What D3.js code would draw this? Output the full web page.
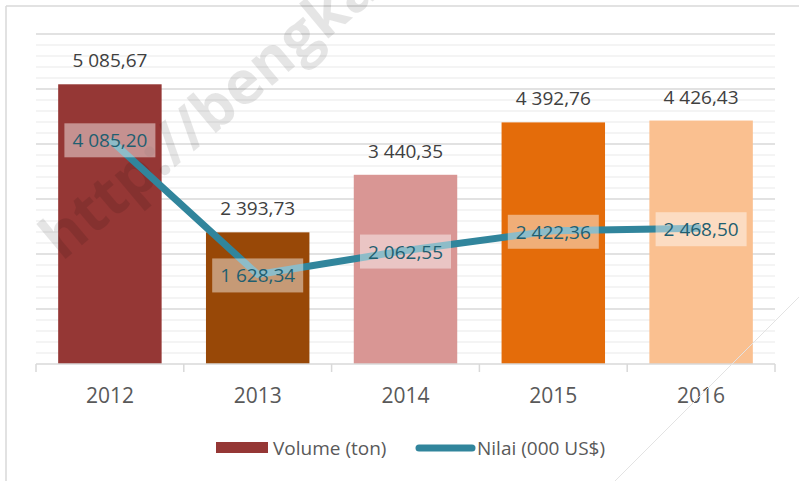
<!DOCTYPE html>
<html>
<head>
<meta charset="utf-8">
<script src="https://cdn.jsdelivr.net/npm/d3@7"></script>
<style>
  html, body { margin: 0; padding: 0; background: #fff; }
  svg { display: block; }
  text { font-family: "Open Sans", "Liberation Sans", sans-serif; }
</style>
</head>
<body>
<svg id="chart" width="799" height="481"></svg>
<script>
const years = ["2012", "2013", "2014", "2015", "2016"];
const volume = [5085.67, 2393.73, 3440.35, 4392.76, 4426.43];
const nilai = [4085.20, 1628.34, 2062.55, 2422.36, 2468.50];
const barColors = ["#953735", "#984807", "#d99694", "#e46c0a", "#fac090"];
const yMajorTicks = [0, 1000, 2000, 3000, 4000, 5000, 6000];
const seriesNames = ["Volume (ton)", "Nilai (000 US$)"];
const watermarkText = "http://bengka";

const W = 799, H = 481;
const mLeft = 36, mRight = 775, mTop = 34, mBottom = 364;

const svg = d3.select("#chart");
const loc = d3.formatLocale({decimal: ",", thousands: " ", grouping: [3], currency: ["", ""]});
const fmt = loc.format(",.2f");

const x = d3.scaleBand().domain(years).range([mLeft, mRight]).paddingInner(0.3).paddingOuter(0.15);
const y = d3.scaleLinear().domain([0, 6000]).range([mBottom, mTop]);

// outer border (top & left visible)
svg.append("line").attr("x1", 6).attr("x2", W).attr("y1", 6).attr("y2", 6)
  .attr("stroke", "#d9d9d9").attr("stroke-width", 1.5);
svg.append("line").attr("x1", 6).attr("x2", 6).attr("y1", 6).attr("y2", H)
  .attr("stroke", "#d9d9d9").attr("stroke-width", 1.5);

// minor gridlines
const minor = d3.range(200, 6000, 200).filter(v => v % 1000 !== 0);
svg.append("g").selectAll("line").data(minor).join("line")
  .attr("x1", mLeft).attr("x2", mRight)
  .attr("y1", d => y(d)).attr("y2", d => y(d))
  .attr("stroke", "#f0f0f0").attr("stroke-width", 1.5);
// major gridlines
svg.append("g").selectAll("line").data(yMajorTicks.filter(v => v > 0)).join("line")
  .attr("x1", mLeft).attr("x2", mRight)
  .attr("y1", d => y(d)).attr("y2", d => y(d))
  .attr("stroke", "#d9d9d9").attr("stroke-width", 1.5);

// bars
svg.append("g").selectAll("rect").data(years).join("rect")
  .attr("x", d => x(d)).attr("width", x.bandwidth())
  .attr("y", (d, i) => y(volume[i])).attr("height", (d, i) => y(0) - y(volume[i]))
  .attr("fill", (d, i) => barColors[i]);

// watermark (clipped by the top of the image, as in the reference)
svg.append("text")
  .attr("transform", "translate(62,262) rotate(-40)")
  .attr("font-family", "'Open Sans', sans-serif")
  .attr("font-weight", "bold").attr("font-size", 60)
  .attr("fill", "rgba(0,0,0,0.1)")
  .text(watermarkText);

// x axis
svg.append("line").attr("x1", mLeft).attr("x2", mRight).attr("y1", mBottom).attr("y2", mBottom)
  .attr("stroke", "#d9d9d9").attr("stroke-width", 1.5);
const bounds = d3.range(years.length + 1).map(i => mLeft + i * x.step());
svg.append("g").selectAll("line").data(bounds).join("line")
  .attr("x1", d => d).attr("x2", d => d).attr("y1", mBottom).attr("y2", mBottom + 8)
  .attr("stroke", "#d9d9d9").attr("stroke-width", 1.5);
svg.append("g").selectAll("text").data(years).join("text")
  .attr("x", d => x(d) + x.bandwidth() / 2).attr("y", 403)
  .attr("text-anchor", "middle").attr("font-size", 21).attr("fill", "#595959")
  .text(d => d);

// bar value labels
svg.append("g").selectAll("text").data(years).join("text")
  .attr("x", d => x(d) + x.bandwidth() / 2).attr("y", (d, i) => y(volume[i]) - 17)
  .attr("text-anchor", "middle").attr("font-size", 19).attr("fill", "#404040")
  .text((d, i) => fmt(volume[i]));

// line
const cx = d => x(d) + x.bandwidth() / 2;
const line = d3.line().x((d, i) => cx(years[i])).y(d => y(d));
svg.append("path").datum(nilai).attr("d", line)
  .attr("fill", "none").attr("stroke", "#31859c").attr("stroke-width", 7)
  .attr("stroke-linejoin", "round");

// line labels
const lab = svg.append("g").selectAll("g").data(years).join("g")
  .attr("transform", (d, i) => `translate(${cx(d)},${y(nilai[i]) + 1})`);
lab.append("rect").attr("x", -45.5).attr("y", -17).attr("width", 91).attr("height", 34)
  .attr("fill", "rgba(255,255,255,0.45)");
lab.append("text").attr("y", 7).attr("text-anchor", "middle")
  .attr("font-size", 19).attr("fill", "#1f5f70")
  .text((d, i) => fmt(nilai[i]));

// legend
svg.append("rect").attr("x", 216).attr("y", 442).attr("width", 52).attr("height", 11)
  .attr("fill", barColors[0]);
svg.append("text").attr("x", 273).attr("y", 455).attr("font-size", 19).attr("fill", "#595959")
  .text(seriesNames[0]);
svg.append("line").attr("x1", 419).attr("x2", 472).attr("y1", 448).attr("y2", 448)
  .attr("stroke", "#31859c").attr("stroke-width", 7).attr("stroke-linecap", "round");
svg.append("text").attr("x", 477).attr("y", 455).attr("font-size", 19).attr("fill", "#595959")
  .text(seriesNames[1]);

// decorative diagonal stroke at bottom right
svg.append("line").attr("x1", W).attr("y1", 297).attr("x2", 615).attr("y2", H)
  .attr("stroke", "#e3e3e3").attr("stroke-width", 1);
</script>
</body>
</html>
